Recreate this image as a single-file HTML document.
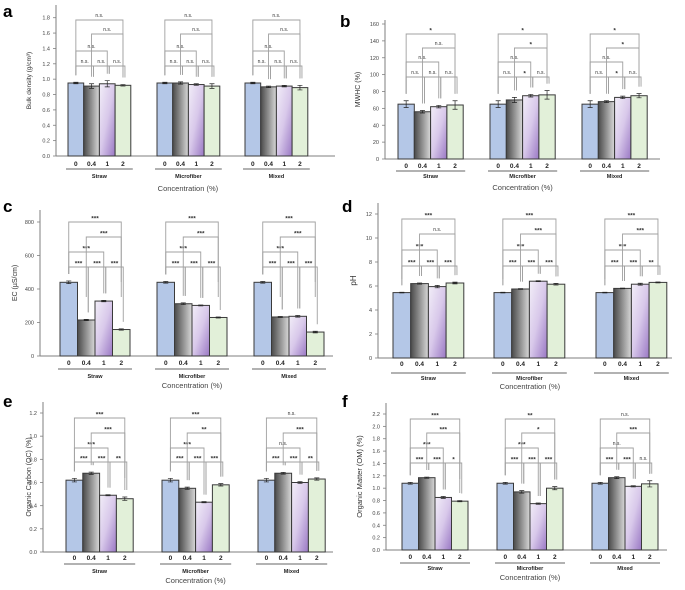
<!DOCTYPE html>
<html><head><meta charset="utf-8"><style>
html,body{margin:0;padding:0;background:#fff;width:685px;height:590px;overflow:hidden}
svg{display:block;font-family:"Liberation Sans",sans-serif}
</style></head><body>
<svg id="fig" width="685" height="590" viewBox="0 0 685 590" xmlns="http://www.w3.org/2000/svg">
<defs>
<linearGradient id="gGray" x1="0" y1="0" x2="1" y2="0"><stop offset="0" stop-color="#4a4a4a"/><stop offset="1" stop-color="#d8d8d8"/></linearGradient>
<linearGradient id="gPurple" x1="0" y1="0" x2="1" y2="1"><stop offset="0" stop-color="#f2eef8"/><stop offset="0.5" stop-color="#d8c8ea"/><stop offset="1" stop-color="#9a78c4"/></linearGradient>
</defs>
</svg>
<script>
const groups = ["Straw","Microfiber","Mixed"];
const concs = ["0","0.4","1","2"];
const valsA = [[0.95,0.91,0.94,0.92],[0.95,0.95,0.93,0.91],[0.95,0.90,0.91,0.89]];
const errA = [[0.01,0.03,0.04,0.01],[0.01,0.015,0.01,0.03],[0.01,0.01,0.01,0.03]];
const valsB = [[65,56,62,64],[65,70,75,76],[65,68,73,75]];
const errB = [[4,1.5,1.5,5],[4,3,1.5,5],[4,1,1.5,2.5]];
const valsC = [[440,215,328,158],[440,312,302,230],[440,233,237,143]];
const errC = [[8,4,4,4],[5,5,3,3],[5,3,5,5]];
const valsD = [[5.45,6.2,5.95,6.25],[5.45,5.75,6.4,6.15],[5.45,5.8,6.15,6.3]];
const errD = [[0.03,0.05,0.1,0.07],[0.03,0.03,0.04,0.07],[0.03,0.03,0.08,0.04]];
const valsE = [[0.62,0.68,0.49,0.46],[0.62,0.55,0.43,0.58],[0.62,0.68,0.60,0.63]];
const errE = [[0.015,0.01,0.005,0.015],[0.015,0.01,0.005,0.01],[0.015,0.008,0.008,0.01]];
const valsF = [[1.08,1.17,0.85,0.79],[1.08,0.94,0.75,1.0],[1.08,1.17,1.03,1.07]];
const errF = [[0.015,0.01,0.015,0.01],[0.015,0.02,0.01,0.025],[0.015,0.015,0.01,0.05]];
const ticksA = ["0.0","0.2","0.4","0.6","0.8","1.0","1.2","1.4","1.6","1.8"];
const ticksB = ["0","20","40","60","80","100","120","140","160"];
const ticksC = ["0","200","400","600","800"];
const ticksD = ["0","2","4","6","8","10","12"];
const ticksE = ["0.0","0.2","0.4","0.6","0.8","1.0","1.2"];
const ticksF = ["0.0","0.2","0.4","0.6","0.8","1.0","1.2","1.4","1.6","1.8","2.0","2.2"];
// significance order: [0-0.4, 0.4-1, 1-2, 0-1, 0.4-2, 0-2]
const sigA = [["n.s.","n.s.","n.s.","n.s.","n.s.","n.s."],["n.s.","n.s.","n.s.","n.s.","n.s.","n.s."],["n.s.","n.s.","n.s.","n.s.","n.s.","n.s."]];
const sigB = [["n.s.","n.s.","n.s.","n.s.","n.s.","*"],["n.s.","*","n.s.","n.s.","*","*"],["n.s.","*","n.s.","n.s.","*","*"]];
const sigC = [["***","***","***","***","***","***"],["***","***","***","***","***","***"],["***","***","***","***","***","***"]];
const sigD = [["***","***","***","***","n.s.","***"],["***","***","***","***","***","***"],["***","***","**","***","***","***"]];
const sigE = [["***","***","**","***","***","***"],["***","***","***","***","**","***"],["***","***","**","n.s.","***","n.s."]];
const sigF = [["***","***","*","***","***","***"],["***","***","***","***","*","**"],["***","***","n.s.","n.s.","***","n.s."]];

const panels = [
 {id:"a",vals:valsA,err:errA,ticks:ticksA,sig:sigA,title:"Bulk density (g/cm³)",max:1.8,ax:56,y0:156,yt:17.7,top:5,right:335,gx:[68,157,245],bw:15.7,lv:[66,51,34,20],tl:166,ul:169,gn:178,cn:191,lx:3,ly:17,tx:31,tfs:6.5},
 {id:"b",vals:valsB,err:errB,ticks:ticksB,sig:sigB,title:"MWHC (%)",max:160,ax:385,y0:159,yt:24,top:20,right:660,gx:[398,490,582],bw:16.3,lv:[77,62,48,34],tl:168,ul:171,gn:178,cn:190,lx:340,ly:27,tx:360,tfs:7},
 {id:"c",vals:valsC,err:errC,ticks:ticksC,sig:sigC,title:"EC (µS/cm)",max:800,ax:40,y0:356,yt:222,top:210,right:333,gx:[60,157,254],bw:17.5,lv:[267,252,237,222],tl:365,ul:369,gn:378,cn:388,lx:3,ly:212,tx:17,tfs:7},
 {id:"d",vals:valsD,err:errD,ticks:ticksD,sig:sigD,title:"pH",max:12,ax:378,y0:358,yt:214,top:203,right:672,gx:[393,494,596],bw:17.7,lv:[266,250,234,219],tl:366,ul:373,gn:380,cn:389,lx:342,ly:212,tx:356,tfs:8},
 {id:"e",vals:valsE,err:errE,ticks:ticksE,sig:sigE,title:"Organic Carbon (OC) (%)",max:1.2,ax:43,y0:552,yt:413,top:402,right:333,gx:[66,162,258],bw:16.8,lv:[462,448,433,418],tl:560,ul:564,gn:573,cn:583,lx:3,ly:407,tx:31,tfs:7},
 {id:"f",vals:valsF,err:errF,ticks:ticksF,sig:sigF,title:"Organic Matter (OM) (%)",max:2.2,ax:386,y0:550,yt:414,top:403,right:667,gx:[402,497,592],bw:16.5,lv:[463,448,433,419],tl:559,ul:563,gn:570,cn:580,lx:342,ly:407,tx:362,tfs:7.5}
];
const fills = ["#b4c7e7","url(#gGray)","url(#gPurple)","#e2f0d9"];
const svg = document.getElementById('fig');
const NS = "http://www.w3.org/2000/svg";
function mk(tag, at, parent){const e=document.createElementNS(NS,tag);for(const k in at)e.setAttribute(k,at[k]);(parent||svg).appendChild(e);return e;}
function txt(s, at, parent){const e=mk('text',at,parent);e.textContent=s;return e;}

panels.forEach(p=>{
  const g = mk('g',{});
  
  
  const y = v => p.y0 - (v/p.max)*(p.y0-p.yt);
  const bx = (gi,ci) => p.gx[gi] + ci*p.bw;
  // panel letter
  const L = txt(p.id,{x:p.lx,y:p.ly,'font-size':17,'font-weight':'bold',fill:'#000'},g);
  
  
  // axes
  const ya = mk('line',{x1:p.ax,y1:p.top,x2:p.ax,y2:p.y0,stroke:'#7f7f7f','stroke-width':1},g);
  
  
  const xa = mk('line',{x1:p.ax,y1:p.y0,x2:p.right,y2:p.y0,stroke:'#7f7f7f','stroke-width':1},g);
  
  
  p.ticks.forEach((t,i)=>{
    const v = parseFloat(t); const ty = y(v);
    mk('line',{x1:p.ax-3,y1:ty,x2:p.ax,y2:ty,stroke:'#7f7f7f','stroke-width':0.8},g);
    const tt = txt(t,{x:p.ax-6,y:ty+2,'font-size':5.5,'text-anchor':'end',fill:'#444'},g);
    
    
  });
  const midY = (p.top+p.y0)/2;
  const yt = txt(p.title,{x:p.tx,y:midY,'font-size':p.tfs,'text-anchor':'middle',fill:'#333',transform:`rotate(-90 ${p.tx} ${midY})`},g);
  
  
  // bars
  p.vals.forEach((gv,gi)=>{
    gv.forEach((v,ci)=>{
      const x0 = bx(gi,ci), top = y(v);
      const r = mk('rect',{x:x0,y:top,width:p.bw,height:p.y0-top,fill:fills[ci],stroke:'#3a3a3a','stroke-width':1},g);
      
      
      const e = p.err[gi][ci], cx = x0+p.bw/2;
      const e1 = y(v+e), e2 = y(v-e);
      mk('path',{d:`M${cx},${e1}V${e2}M${cx-2.5},${e1}H${cx+2.5}M${cx-2.5},${e2}H${cx+2.5}`,stroke:'#222','stroke-width':0.7,fill:'none'},g);
      const tl = txt(concs[ci],{x:cx,y:p.tl,'font-size':6.5,'font-weight':'bold','text-anchor':'middle',fill:'#222'},g);
      
      
    });
    const gx0 = bx(gi,0)-2, gx1 = bx(gi,4)+2;
    mk('line',{x1:gx0,y1:p.ul,x2:gx1,y2:p.ul,stroke:'#333','stroke-width':0.8},g);
    const gn = txt(groups[gi],{x:(gx0+gx1)/2,y:p.gn,'font-size':5.5,'font-weight':'bold','text-anchor':'middle',fill:'#222'},g);
    
    
    // brackets
    const pairs = [[0,1,0],[1,2,0],[2,3,0],[0,2,1],[1,3,2],[0,3,3]];
    pairs.forEach(([a,b,lvl],k)=>{
      const xa1 = bx(gi,a)+p.bw/2 + (k<3?0:0), xb1 = bx(gi,b)+p.bw/2 + (k<3?2:0);
      const xA = k<3 && a>0 ? xa1+2 : xa1;
      const ly = p.lv[lvl];
      const la = Math.min(y(p.vals[gi][a]+p.err[gi][a])-7, ly+60);
      const lb = Math.min(y(p.vals[gi][b]+p.err[gi][b])-7, ly+60);
      const br = mk('path',{d:`M${xA},${la}V${ly}H${xb1}V${lb}`,stroke:'#a0a0a0','stroke-width':0.9,fill:'none'},g);
      
      
      const s = p.sig[gi][k];
      const st = txt(s,{x:(xA+xb1)/2,y:ly-(s==='n.s.'?3:1.5),'font-size':s==='n.s.'?5:6.5,'font-weight':s==='n.s.'?'normal':'bold','text-anchor':'middle',fill:'#333'},g);
      
      
    });
  });
  const cxm = (p.gx[0]+p.gx[2]+4*p.bw)/2;
  const ct = txt("Concentration (%)",{x:cxm,y:p.cn,'font-size':7.5,'text-anchor':'middle',fill:'#444'},g);
  
  
});
</script>
</body></html>
